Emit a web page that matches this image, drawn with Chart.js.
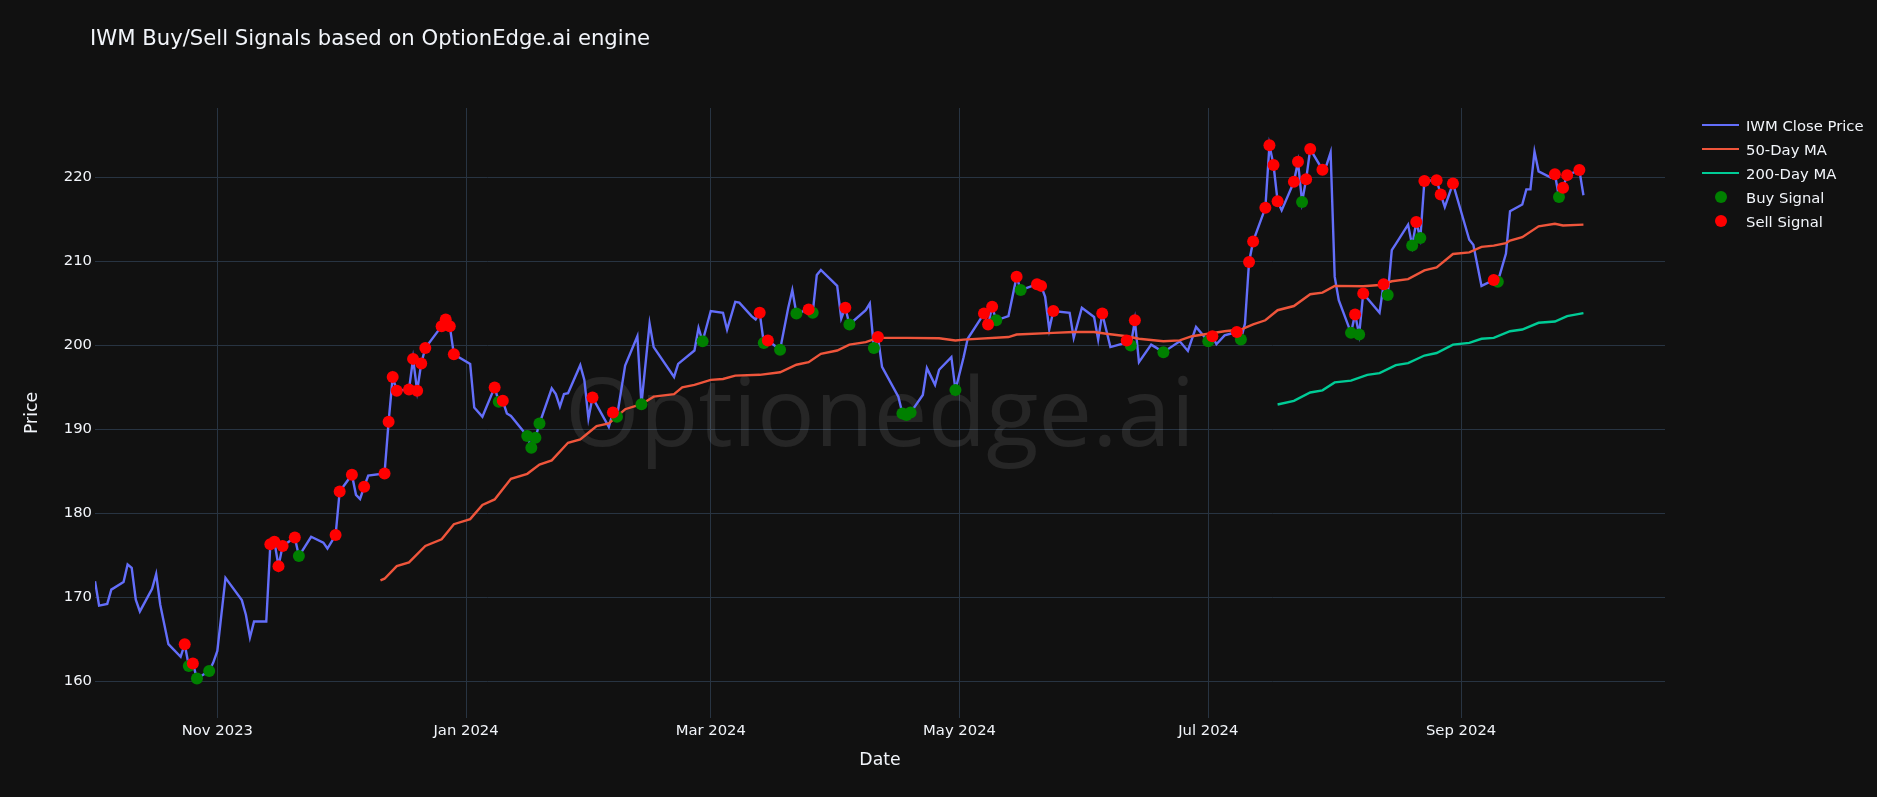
<!DOCTYPE html>
<html>
<head>
<meta charset="utf-8">
<title>IWM Buy/Sell Signals</title>
<script src="https://cdn.jsdelivr.net/npm/chart.js@4.4.1/dist/chart.umd.min.js"></script>
<style>
    body { margin: 0; background: #111111; }
    #wrap { position: relative; width: 1877px; height: 797px; background: #111111; font-family: "DejaVu Sans", Verdana, Arial, sans-serif; color: #f2f5fa; }
    #chartTitle { position: absolute; left: 90px; top: 25px; font-size: 21.2px; line-height: 26px; white-space: nowrap; }
    #legend { position: absolute; left: 1702px; top: 113px; font-size: 14.8px; }
    .item { display: flex; align-items: center; height: 24px; white-space: nowrap; }
    .sym { width: 38px; height: 24px; position: relative; margin-right: 6px; }
    .sym .line { position: absolute; left: 0; top: 11px; width: 37px; height: 2px; }
    .sym .dot { position: absolute; left: 13px; top: 6px; width: 12px; height: 12px; border-radius: 50%; }
</style>
</head>
<body>
<div id="wrap">
    <canvas id="signalChart" width="1877" height="797"></canvas>
    <div id="chartTitle">IWM Buy/Sell Signals based on OptionEdge.ai engine</div>
    <div id="legend">
        <div class="item"><div class="sym"><div class="line" style="background:#636efa"></div></div>IWM Close Price</div>
        <div class="item"><div class="sym"><div class="line" style="background:#ef553b"></div></div>50-Day MA</div>
        <div class="item"><div class="sym"><div class="line" style="background:#00cc96"></div></div>200-Day MA</div>
        <div class="item"><div class="sym"><div class="dot" style="background:#008000"></div></div>Buy Signal</div>
        <div class="item"><div class="sym"><div class="dot" style="background:#ff0000"></div></div>Sell Signal</div>
    </div>
</div>
<script>
const priceDates = [
    "2023-10-02", "2023-10-03", "2023-10-05", "2023-10-06", "2023-10-09", "2023-10-10", "2023-10-11", "2023-10-12",
    "2023-10-13", "2023-10-16", "2023-10-17", "2023-10-18", "2023-10-20", "2023-10-23", "2023-10-24", "2023-10-25",
    "2023-10-26", "2023-10-27", "2023-10-30", "2023-10-31", "2023-11-01", "2023-11-03", "2023-11-07", "2023-11-08",
    "2023-11-09", "2023-11-10", "2023-11-13", "2023-11-14", "2023-11-15", "2023-11-16", "2023-11-17", "2023-11-20",
    "2023-11-21", "2023-11-24", "2023-11-27", "2023-11-28", "2023-11-30", "2023-12-01", "2023-12-04", "2023-12-05",
    "2023-12-06", "2023-12-07", "2023-12-08", "2023-12-12", "2023-12-13", "2023-12-14", "2023-12-15", "2023-12-18",
    "2023-12-19", "2023-12-20", "2023-12-21", "2023-12-22", "2023-12-26", "2023-12-27", "2023-12-28", "2023-12-29",
    "2024-01-02", "2024-01-03", "2024-01-05", "2024-01-08", "2024-01-09", "2024-01-10", "2024-01-11", "2024-01-12",
    "2024-01-16", "2024-01-17", "2024-01-18", "2024-01-19", "2024-01-22", "2024-01-23", "2024-01-24", "2024-01-25",
    "2024-01-26", "2024-01-29", "2024-01-30", "2024-01-31", "2024-02-01", "2024-02-05", "2024-02-06", "2024-02-07",
    "2024-02-09", "2024-02-12", "2024-02-13", "2024-02-15", "2024-02-16", "2024-02-21", "2024-02-22", "2024-02-26",
    "2024-02-27", "2024-02-28", "2024-03-01", "2024-03-04", "2024-03-05", "2024-03-07", "2024-03-08", "2024-03-11",
    "2024-03-12", "2024-03-13", "2024-03-14", "2024-03-15", "2024-03-18", "2024-03-20", "2024-03-21", "2024-03-22",
    "2024-03-25", "2024-03-26", "2024-03-27", "2024-03-28", "2024-04-01", "2024-04-02", "2024-04-03", "2024-04-04",
    "2024-04-08", "2024-04-09", "2024-04-10", "2024-04-11", "2024-04-12", "2024-04-16", "2024-04-17", "2024-04-18",
    "2024-04-19", "2024-04-22", "2024-04-23", "2024-04-25", "2024-04-26", "2024-04-29", "2024-04-30", "2024-05-02",
    "2024-05-03", "2024-05-07", "2024-05-08", "2024-05-09", "2024-05-10", "2024-05-13", "2024-05-15", "2024-05-16",
    "2024-05-20", "2024-05-21", "2024-05-22", "2024-05-23", "2024-05-24", "2024-05-28", "2024-05-29", "2024-05-31",
    "2024-06-03", "2024-06-04", "2024-06-05", "2024-06-07", "2024-06-10", "2024-06-11", "2024-06-12", "2024-06-13",
    "2024-06-14", "2024-06-17", "2024-06-18", "2024-06-20", "2024-06-24", "2024-06-26", "2024-06-28", "2024-07-01",
    "2024-07-02", "2024-07-03", "2024-07-05", "2024-07-08", "2024-07-09", "2024-07-10", "2024-07-11", "2024-07-12",
    "2024-07-15", "2024-07-16", "2024-07-17", "2024-07-18", "2024-07-19", "2024-07-22", "2024-07-23", "2024-07-24",
    "2024-07-25", "2024-07-26", "2024-07-29", "2024-07-30", "2024-07-31", "2024-08-01", "2024-08-02", "2024-08-05",
    "2024-08-06", "2024-08-07", "2024-08-08", "2024-08-12", "2024-08-13", "2024-08-14", "2024-08-15", "2024-08-16",
    "2024-08-19", "2024-08-20", "2024-08-21", "2024-08-22", "2024-08-23", "2024-08-26", "2024-08-27", "2024-08-28",
    "2024-08-30", "2024-09-03", "2024-09-04", "2024-09-06", "2024-09-09", "2024-09-10", "2024-09-12", "2024-09-13",
    "2024-09-16", "2024-09-17", "2024-09-18", "2024-09-19", "2024-09-20", "2024-09-23", "2024-09-24", "2024-09-25",
    "2024-09-26", "2024-09-27", "2024-09-30", "2024-10-01"
];
const priceValues = [
    171.9, 169.0, 169.2, 170.9, 171.8, 173.9, 173.5, 169.7,
    168.3, 171.0, 172.75, 169.1, 164.4, 162.9, 164.4, 161.8,
    162.1, 160.3, 161.2, 162.2, 163.6, 172.3, 169.65, 167.9,
    165.2, 167.1, 167.1, 176.3, 176.6, 173.7, 176.1, 177.1,
    174.9, 177.2, 176.5, 175.8, 177.4, 182.6, 184.6, 182.2,
    181.7, 183.15, 184.5, 184.75, 190.9, 196.25, 194.6, 194.75,
    198.4, 194.6, 197.85, 199.7, 202.3, 203.1, 202.3, 198.96,
    197.8, 192.6, 191.5, 195.0, 193.3, 193.4, 191.9, 191.6,
    189.2, 187.8, 189.0, 190.7, 194.9, 194.2, 192.7, 194.2,
    194.3, 197.65, 195.9, 191.3, 193.8, 190.3, 192.0, 191.5,
    197.6, 201.1, 193.0, 202.6, 199.8, 196.25, 197.8, 199.4,
    202.1, 200.5, 204.1, 203.9, 201.9, 205.2, 205.1, 203.5,
    203.1, 203.9, 200.3, 200.6, 199.5, 204.5, 206.6, 203.8,
    204.3, 203.9, 208.4, 209.0, 207.1, 203.2, 204.5, 202.5,
    204.2, 205.0, 199.7, 201.0, 197.45, 193.9, 191.9, 191.7,
    192.0, 194.1, 197.3, 195.3, 197.1, 198.6, 194.7, 198.6,
    200.8, 203.8, 202.5, 204.6, 203.0, 203.5, 208.2, 206.6,
    207.3, 207.1, 205.8, 201.9, 204.1, 203.9, 200.9, 204.5,
    203.4, 200.7, 203.8, 199.8, 200.2, 200.6, 200.0, 203.0,
    198.0, 200.1, 199.8, 199.2, 200.5, 199.35, 202.2, 200.5,
    201.1, 200.15, 201.2, 201.6, 200.7, 202.6, 209.95, 212.4,
    216.4, 223.85, 221.5, 217.2, 216.1, 219.5, 221.9, 217.1,
    219.8, 223.4, 220.95, 221.5, 223.0, 208.2, 205.4, 201.5,
    203.7, 201.3, 206.2, 203.9, 207.3, 206.0, 211.35, 212.1,
    214.4, 211.9, 214.7, 212.8, 219.6, 219.7, 218.0, 216.5,
    219.3, 212.6, 212.0, 207.1, 207.8, 207.6, 210.95, 216.0,
    216.8, 218.6, 218.6, 223.1, 220.75, 220.0, 220.4, 217.7,
    218.8, 220.3, 220.9, 217.9
];

const ma50Dates = [
    "2023-12-11", "2023-12-12", "2023-12-15", "2023-12-18", "2023-12-22", "2023-12-26", "2023-12-29", "2024-01-02",
    "2024-01-05", "2024-01-08", "2024-01-12", "2024-01-16", "2024-01-19", "2024-01-22", "2024-01-26", "2024-01-29",
    "2024-01-31", "2024-02-02", "2024-02-05", "2024-02-09", "2024-02-13", "2024-02-16", "2024-02-21", "2024-02-23",
    "2024-02-26", "2024-03-01", "2024-03-04", "2024-03-07", "2024-03-13", "2024-03-18", "2024-03-22", "2024-03-25",
    "2024-03-28", "2024-04-01", "2024-04-04", "2024-04-08", "2024-04-11", "2024-04-18", "2024-04-26", "2024-04-30",
    "2024-05-02", "2024-05-13", "2024-05-15", "2024-05-24", "2024-05-29", "2024-06-03", "2024-06-06", "2024-06-11",
    "2024-06-14", "2024-06-20", "2024-06-24", "2024-06-27", "2024-07-01", "2024-07-05", "2024-07-09", "2024-07-12",
    "2024-07-15", "2024-07-18", "2024-07-22", "2024-07-26", "2024-07-29", "2024-08-01", "2024-08-08", "2024-08-12",
    "2024-08-15", "2024-08-19", "2024-08-23", "2024-08-26", "2024-08-30", "2024-09-03", "2024-09-06", "2024-09-09",
    "2024-09-12", "2024-09-13", "2024-09-16", "2024-09-20", "2024-09-24", "2024-09-26", "2024-10-01"
];
const ma50Values = [
    172.0, 172.2, 173.7, 174.15, 176.1, 176.9, 178.7, 179.3,
    181.0, 181.65, 184.1, 184.7, 185.8, 186.3, 188.4, 188.8,
    189.6, 190.4, 190.7, 192.4, 193.0, 193.9, 194.2, 195.0,
    195.3, 195.9, 196.0, 196.4, 196.5, 196.8, 197.7, 198.0,
    199.0, 199.4, 200.1, 200.4, 200.9, 200.9, 200.85, 200.6,
    200.7, 201.0, 201.3, 201.5, 201.6, 201.6, 201.4, 201.1,
    200.8, 200.5, 200.6, 201.1, 201.4, 201.7, 201.9, 202.5,
    203.0, 204.2, 204.7, 206.1, 206.3, 207.1, 207.05, 207.2,
    207.65, 207.9, 208.95, 209.3, 210.9, 211.1, 211.75, 211.9,
    212.2, 212.5, 212.9, 214.2, 214.5, 214.3, 214.4
];

const ma200Dates = [
    "2024-07-18", "2024-07-22", "2024-07-26", "2024-07-29", "2024-08-01", "2024-08-05", "2024-08-09", "2024-08-12",
    "2024-08-16", "2024-08-19", "2024-08-23", "2024-08-26", "2024-08-30", "2024-09-03", "2024-09-06", "2024-09-09",
    "2024-09-13", "2024-09-16", "2024-09-20", "2024-09-24", "2024-09-27", "2024-10-01"
];
const ma200Values = [
    192.96, 193.4, 194.4, 194.65, 195.6, 195.8, 196.5, 196.7,
    197.65, 197.9, 198.8, 199.1, 200.1, 200.3, 200.8, 200.9,
    201.7, 201.9, 202.7, 202.85, 203.5, 203.85
];

const buyDates = [
    "2023-10-25", "2023-10-27", "2023-10-30", "2023-11-21", "2024-01-09", "2024-01-16", "2024-01-17", "2024-01-18",
    "2024-01-19", "2024-02-07", "2024-02-13", "2024-02-28", "2024-03-14", "2024-03-18", "2024-03-22", "2024-03-26",
    "2024-04-04", "2024-04-10", "2024-04-17", "2024-04-18", "2024-04-19", "2024-04-30", "2024-05-10", "2024-05-16",
    "2024-06-12", "2024-06-20", "2024-07-01", "2024-07-09", "2024-07-24", "2024-08-05", "2024-08-07", "2024-08-14",
    "2024-08-20", "2024-08-22", "2024-09-10", "2024-09-25"
];
const buyValues = [
    161.8, 160.3, 161.2, 174.9, 193.3, 189.2, 187.8, 189.0,
    190.7, 191.5, 193.0, 200.5, 200.3, 199.5, 203.8, 203.9,
    202.5, 199.7, 191.9, 191.7, 192.0, 194.7, 203.0, 206.6,
    200.0, 199.2, 200.5, 200.7, 217.1, 201.5, 201.3, 206.0,
    211.9, 212.8, 207.6, 217.7
];

const sellDates = [
    "2023-10-24", "2023-10-26", "2023-11-14", "2023-11-15", "2023-11-16", "2023-11-17", "2023-11-20", "2023-11-30",
    "2023-12-01", "2023-12-04", "2023-12-07", "2023-12-12", "2023-12-13", "2023-12-14", "2023-12-15", "2023-12-18",
    "2023-12-19", "2023-12-20", "2023-12-21", "2023-12-22", "2023-12-26", "2023-12-27", "2023-12-28", "2023-12-29",
    "2024-01-08", "2024-01-10", "2024-02-01", "2024-02-06", "2024-03-13", "2024-03-15", "2024-03-25", "2024-04-03",
    "2024-04-11", "2024-05-07", "2024-05-08", "2024-05-09", "2024-05-15", "2024-05-20", "2024-05-21", "2024-05-24",
    "2024-06-05", "2024-06-11", "2024-06-13", "2024-07-02", "2024-07-08", "2024-07-11", "2024-07-12", "2024-07-15",
    "2024-07-16", "2024-07-17", "2024-07-18", "2024-07-22", "2024-07-23", "2024-07-25", "2024-07-26", "2024-07-29",
    "2024-08-06", "2024-08-08", "2024-08-13", "2024-08-21", "2024-08-23", "2024-08-26", "2024-08-27", "2024-08-30",
    "2024-09-09", "2024-09-24", "2024-09-26", "2024-09-27", "2024-09-30"
];
const sellValues = [
    164.4, 162.1, 176.3, 176.6, 173.7, 176.1, 177.1, 177.4,
    182.6, 184.6, 183.15, 184.75, 190.9, 196.25, 194.6, 194.75,
    198.4, 194.6, 197.85, 199.7, 202.3, 203.1, 202.3, 198.96,
    195.0, 193.4, 193.8, 192.0, 203.9, 200.6, 204.3, 204.5,
    201.0, 203.8, 202.5, 204.6, 208.2, 207.3, 207.1, 204.1,
    203.8, 200.6, 203.0, 201.1, 201.6, 209.95, 212.4, 216.4,
    223.85, 221.5, 217.2, 219.5, 221.9, 219.8, 223.4, 220.95,
    203.7, 206.2, 207.3, 214.7, 219.6, 219.7, 218.0, 219.3,
    207.8, 220.4, 218.8, 220.3, 220.9
];

const monthTicks = ["2023-11-01", "2024-01-01", "2024-03-01", "2024-05-01", "2024-07-01", "2024-09-01"];
const priceTicks = [160, 170, 180, 190, 200, 210, 220];
const monthNames = ["Jan", "Feb", "Mar", "Apr", "May", "Jun", "Jul", "Aug", "Sep", "Oct", "Nov", "Dec"];

const toPoints = (dates, values) => dates.map((d, i) => ({ x: Date.parse(d), y: values[i] }));

const textColor = "#f2f5fa";
const gridColor = "#283442";
const fontFamily = '"DejaVu Sans", Verdana, Arial, sans-serif';

// faint watermark behind the traces
const watermark = {
    id: "watermark",
    beforeDatasetsDraw(chart) {
        const { ctx, chartArea } = chart;
        ctx.save();
        ctx.font = '96px "Open Sans", Arial, sans-serif';
        ctx.fillStyle = "rgba(255, 255, 255, 0.09)";
        ctx.textAlign = "center";
        ctx.textBaseline = "alphabetic";
        ctx.fillText("Optionedge.ai", (chartArea.left + chartArea.right) / 2, 446);
        ctx.restore();
    }
};

const lineSet = (label, points, color, order) => ({
    label: label,
    data: points,
    borderColor: color,
    backgroundColor: color,
    borderWidth: 2.4,
    pointRadius: 0,
    tension: 0,
    order: order,
});

const markerSet = (label, points, color, order) => ({
    label: label,
    data: points,
    showLine: false,
    pointRadius: 6,
    pointHoverRadius: 6,
    pointBorderWidth: 0,
    pointBackgroundColor: color,
    backgroundColor: color,
    borderColor: color,
    order: order,
});

const ctx = document.getElementById("signalChart").getContext("2d");

new Chart(ctx, {
    type: "line",
    data: {
        datasets: [
            lineSet("IWM Close Price", toPoints(priceDates, priceValues), "#636efa", 5),
            lineSet("50-Day MA", toPoints(ma50Dates, ma50Values), "#ef553b", 4),
            lineSet("200-Day MA", toPoints(ma200Dates, ma200Values), "#00cc96", 3),
            markerSet("Buy Signal", toPoints(buyDates, buyValues), "#008000", 2),
            markerSet("Sell Signal", toPoints(sellDates, sellValues), "#ff0000", 1),
        ],
    },
    options: {
        responsive: false,
        animation: false,
        layout: { padding: { left: 0, right: 212, top: 108, bottom: 0 } },
        plugins: {
            legend: { display: false },
            tooltip: { enabled: false },
        },
        scales: {
            x: {
                type: "linear",
                min: Date.parse("2023-10-02"),
                max: Date.parse("2024-10-21"),
                grid: { color: gridColor, drawTicks: false },
                border: { display: false },
                afterBuildTicks: (scale) => {
                    scale.ticks = monthTicks.map((d) => ({ value: Date.parse(d) }));
                },
                afterFit: (scale) => { scale.height = 79; },
                ticks: {
                    color: textColor,
                    font: { family: fontFamily, size: 14.8 },
                    padding: 4,
                    maxRotation: 0,
                    autoSkip: false,
                    callback: (value) => {
                        const d = new Date(value);
                        return monthNames[d.getUTCMonth()] + " " + d.getUTCFullYear();
                    },
                },
                title: {
                    display: true,
                    text: "Date",
                    color: textColor,
                    font: { family: fontFamily, size: 17.3 },
                    padding: { top: 0, bottom: 26 },
                },
            },
            y: {
                min: 155.6,
                max: 228.3,
                grid: { color: gridColor, drawTicks: false },
                border: { display: false },
                afterBuildTicks: (scale) => {
                    scale.ticks = priceTicks.map((v) => ({ value: v }));
                },
                afterFit: (scale) => { scale.width = 95; },
                ticks: {
                    color: textColor,
                    font: { family: fontFamily, size: 14.8 },
                    padding: 3,
                },
                title: {
                    display: true,
                    text: "Price",
                    color: textColor,
                    font: { family: fontFamily, size: 17.3 },
                    padding: { top: 22, bottom: 0 },
                },
            },
        },
    },
    plugins: [watermark],
});
</script>
</body>
</html>
